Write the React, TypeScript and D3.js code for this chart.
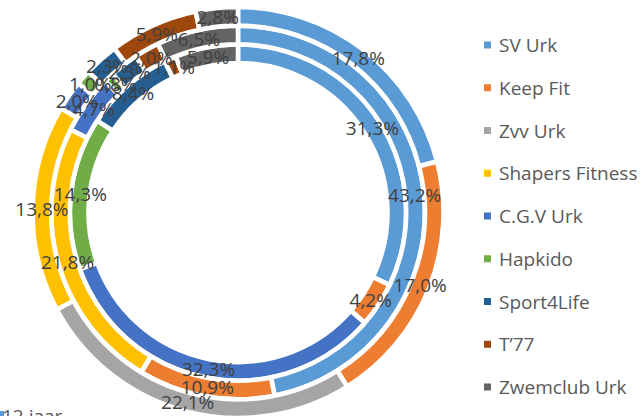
import React, { useRef, useEffect } from "react";
import { select, pie, arc } from "d3";

const clubs = [
  "SV Urk",
  "Keep Fit",
  "Zvv Urk",
  "Shapers Fitness",
  "C.G.V Urk",
  "Hapkido",
  "Sport4Life",
  "T\u201977",
  "Zwemclub Urk",
];
const colors = [
  "#5B9BD5",
  "#ED7D31",
  "#A5A5A5",
  "#FFC000",
  "#4472C4",
  "#70AD47",
  "#255E91",
  "#9E480E",
  "#636363",
];

// rings listed from the inside out
const innerRing = [31.3, 4.2, 0, 0, 32.3, 14.3, 8.4, 1.1, 5.9];
const middleRing = [43.2, 10.9, 0, 21.8, 4.7, 0.8, 2.3, 2.0, 6.5];
const outerRing = [17.8, 17.0, 22.1, 13.8, 2.0, 1.0, 2.3, 5.9, 2.8];
const rings = [innerRing, middleRing, outerRing];

const ageLegend = ["12 jaar"];

const fmt = (v: number) => v.toFixed(1).replace(".", ",") + "%";

const App: React.FC = () => {
  const width = 644;
  const height = 416;
  const cx = 238;
  const cy = 212.5;
  const rInner = 149.5;
  const rOuter = 205.5;
  const ringWidth = (rOuter - rInner) / rings.length;
  const svgRef = useRef(null);

  useEffect(() => {
    const svg = select(svgRef.current);
    svg.selectAll("*").remove();

    const g = svg.append("g").attr("transform", `translate(${cx},${cy})`);
    const p = pie<number>().sort(null).value((d) => d);

    const labels: { x: number; y: number; text: string }[] = [];

    rings.forEach((values, i) => {
      const r0 = rInner + i * ringWidth;
      const r1 = r0 + ringWidth;
      const a = arc<any>().innerRadius(r0).outerRadius(r1);
      const slices = p(values);
      g.append("g")
        .selectAll("path")
        .data(slices)
        .join("path")
        .attr("d", (d) => a(d))
        .attr("fill", (d, j) => colors[j])
        .attr("stroke", "#fff")
        .attr("stroke-width", 4.6)
        .attr("stroke-linejoin", "miter");
      slices.forEach((d) => {
        if (d.data > 0) {
          const [x, y] = a.centroid(d);
          labels.push({ x, y, text: fmt(d.data) });
        }
      });
    });

    g.append("g")
      .selectAll("text")
      .data(labels)
      .join("text")
      .attr("x", (d) => d.x)
      .attr("y", (d) => d.y)
      .attr("text-anchor", "middle")
      .attr("dominant-baseline", "central")
      .attr("font-family", "'Open Sans', sans-serif")
      .attr("font-size", 19)
      .attr("fill", "#404040")
      .text((d) => d.text);

    const legend = svg
      .append("g")
      .selectAll("g")
      .data(clubs)
      .join("g")
      .attr("transform", (d, i) => `translate(484,${45 + i * 42.75})`);
    legend
      .append("rect")
      .attr("x", 0)
      .attr("y", -3.5)
      .attr("width", 7)
      .attr("height", 7)
      .attr("fill", (d, i) => colors[i]);
    legend
      .append("text")
      .attr("x", 15)
      .attr("dominant-baseline", "central")
      .attr("font-family", "'Open Sans', sans-serif")
      .attr("font-size", 19)
      .attr("fill", "#595959")
      .text((d) => d);

    // second legend, cut off at the bottom edge
    const age = svg
      .append("g")
      .selectAll("g")
      .data(ageLegend)
      .join("g")
      .attr("transform", "translate(0,423)");
    age
      .append("rect")
      .attr("x", -3)
      .attr("y", -12)
      .attr("width", 7)
      .attr("height", 7)
      .attr("fill", colors[0]);
    age
      .append("text")
      .attr("x", 2)
      .attr("font-family", "'Open Sans', sans-serif")
      .attr("font-size", 19)
      .attr("fill", "#595959")
      .text((d) => d);
  });

  return (
    <svg
      ref={svgRef}
      width={width}
      height={height}
      style={{ position: "absolute", left: 0, top: 0, background: "#fff" }}
    ></svg>
  );
};

export default App;
